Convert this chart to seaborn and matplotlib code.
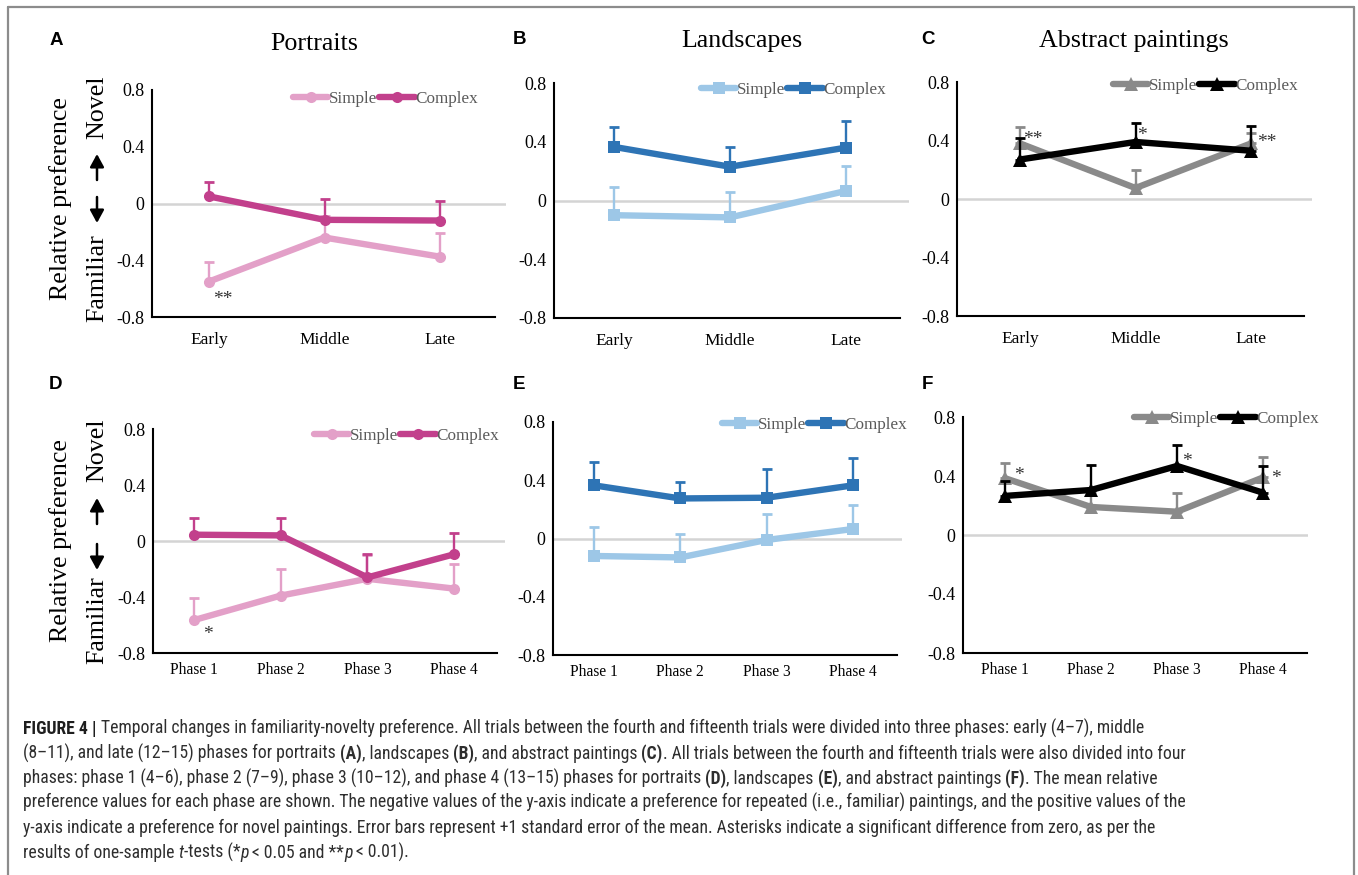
import matplotlib
matplotlib.use('Agg')
import matplotlib.pyplot as plt
import seaborn as sns
import numpy as np
from matplotlib import font_manager as fm
from matplotlib.lines import Line2D
from matplotlib.patches import FancyArrowPatch

W, H = 1358, 875

# ---------------- data ----------------
cats3 = ["Early", "Middle", "Late"]
cats4 = ["Phase 1", "Phase 2", "Phase 3", "Phase 4"]
ytick_vals = [-0.8, -0.4, 0, 0.4, 0.8]
ytick_labels = ["-0.8", "-0.4", "0", "0.4", "0.8"]
series_names = ["Simple", "Complex"]

portrait_simple_3 = [-0.55, -0.24, -0.375]
portrait_simple_3_se = [0.14, 0.15, 0.17]
portrait_complex_3 = [0.05, -0.115, -0.12]
portrait_complex_3_se = [0.10, 0.145, 0.135]

land_simple_3 = [-0.10, -0.115, 0.065]
land_simple_3_se = [0.19, 0.17, 0.17]
land_complex_3 = [0.365, 0.23, 0.36]
land_complex_3_se = [0.135, 0.135, 0.18]

abs_simple_3 = [0.38, 0.075, 0.38]
abs_simple_3_se = [0.115, 0.12, 0.07]
abs_complex_3 = [0.27, 0.39, 0.33]
abs_complex_3_se = [0.15, 0.13, 0.17]

portrait_simple_4 = [-0.565, -0.39, -0.27, -0.34]
portrait_simple_4_se = [0.155, 0.19, 0.17, 0.175]
portrait_complex_4 = [0.045, 0.04, -0.26, -0.095]
portrait_complex_4_se = [0.12, 0.125, 0.17, 0.15]

land_simple_4 = [-0.12, -0.13, -0.01, 0.065]
land_simple_4_se = [0.20, 0.16, 0.18, 0.165]
land_complex_4 = [0.365, 0.275, 0.28, 0.365]
land_complex_4_se = [0.16, 0.11, 0.195, 0.19]

abs_simple_4 = [0.385, 0.19, 0.158, 0.39]
abs_simple_4_se = [0.105, 0.10, 0.13, 0.137]
abs_complex_4 = [0.265, 0.305, 0.468, 0.287]
abs_complex_4_se = [0.10, 0.167, 0.142, 0.18]

# significance marks: (series index 0=Simple 1=Complex, category index, label)
stars_A = [(0, 0, "**")]
stars_B = []
stars_C = [(0, 0, "**"), (1, 1, "*"), (0, 2, "**")]
stars_D = [(0, 0, "*")]
stars_E = []
stars_F = [(0, 0, "*"), (1, 2, "*"), (0, 3, "*")]

titles = ["Portraits", "Landscapes", "Abstract paintings"]
letters = ["A", "B", "C", "D", "E", "F"]
ylabel_main = "Relative preference"
ylabel_low = "Familiar"
ylabel_high = "Novel"

caption_lines = [
    [("FIGURE 4 | ", "bold", "normal"),
     ("Temporal changes in familiarity-novelty preference. All trials between the fourth and fifteenth trials were divided into three phases: early (4\u20137), middle", "normal", "normal")],
    [("(8\u201311), and late (12\u201315) phases for portraits ", "normal", "normal"), ("(A)", "bold", "normal"),
     (", landscapes ", "normal", "normal"), ("(B)", "bold", "normal"),
     (", and abstract paintings ", "normal", "normal"), ("(C)", "bold", "normal"),
     (". All trials between the fourth and fifteenth trials were also divided into four", "normal", "normal")],
    [("phases: phase 1 (4\u20136), phase 2 (7\u20139), phase 3 (10\u201312), and phase 4 (13\u201315) phases for portraits ", "normal", "normal"),
     ("(D)", "bold", "normal"), (", landscapes ", "normal", "normal"), ("(E)", "bold", "normal"),
     (", and abstract paintings ", "normal", "normal"), ("(F)", "bold", "normal"),
     (". The mean relative", "normal", "normal")],
    [("preference values for each phase are shown. The negative values of the y-axis indicate a preference for repeated (i.e., familiar) paintings, and the positive values of the", "normal", "normal")],
    [("y-axis indicate a preference for novel paintings. Error bars represent +1 standard error of the mean. Asterisks indicate a significant difference from zero, as per the", "normal", "normal")],
    [("results of one-sample ", "normal", "normal"), ("t", "normal", "italic"),
     ("-tests (*", "normal", "normal"), ("p", "normal", "italic"), (" < 0.05 and **", "normal", "normal"),
     ("p", "normal", "italic"), (" < 0.01).", "normal", "normal")],
]

# ---------------- style ----------------
sns.set_style("white")
plt.rcParams['font.family'] = ['Liberation Serif', 'DejaVu Serif']

def font_ok(name):
    try:
        fm.findfont(fm.FontProperties(family=name), fallback_to_default=False)
        return True
    except Exception:
        return False

CAPF = None
for cand in ['Liberation Sans Narrow', 'Roboto Condensed', 'Roboto', 'Liberation Sans']:
    if font_ok(cand):
        CAPF = [cand, 'DejaVu Sans']
        break
if CAPF is None:
    CAPF = ['DejaVu Sans']
SANS = ['Liberation Sans', 'DejaVu Sans']

fig = plt.figure(figsize=(W / 100, H / 100), dpi=100)
fig.patch.set_facecolor('white')

# layout in pixels: spine_x, first_tick, tick_step, spine_end, grey_end, top, bottom
layouts = [
    (152, 209, 115.5, 495, 506, 90, 317),
    (554, 614, 116, 900, 909, 83, 318),
    (957, 1020, 115.5, 1304, 1312, 82, 316),
    (153, 194, 86.7, 497, 505, 429, 653),
    (553, 594, 86.3, 897, 902, 422, 655),
    (963, 1005, 86.0, 1307, 1308, 417, 653),
]
legend_anchor = [(478, 99), (886, 90), (1298, 86), (499, 436), (907, 425), (1319, 419)]
star_offsets = {  # pixel offsets of asterisk centre from the data point (right, down)
    "A": [(14, 14)], "B": [], "C": [(13, -8), (6, -11), (16, -5)],
    "D": [(14, 10)], "E": [], "F": [(14, -7), (10, -9), (13, -3)],
}

pal_portrait = ("#E3A0C8", "#C2408C")
pal_land = ("#9DC7E7", "#2E74B5")
pal_abs = ("#8A8A8A", "#000000")

panels = [
    ("A", cats3, portrait_simple_3, portrait_simple_3_se, portrait_complex_3, portrait_complex_3_se, pal_portrait, 'o', stars_A),
    ("B", cats3, land_simple_3, land_simple_3_se, land_complex_3, land_complex_3_se, pal_land, 's', stars_B),
    ("C", cats3, abs_simple_3, abs_simple_3_se, abs_complex_3, abs_complex_3_se, pal_abs, '^', stars_C),
    ("D", cats4, portrait_simple_4, portrait_simple_4_se, portrait_complex_4, portrait_complex_4_se, pal_portrait, 'o', stars_D),
    ("E", cats4, land_simple_4, land_simple_4_se, land_complex_4, land_complex_4_se, pal_land, 's', stars_E),
    ("F", cats4, abs_simple_4, abs_simple_4_se, abs_complex_4, abs_complex_4_se, pal_abs, '^', stars_F),
]

STAR_FS = 14
for i, (letter, cats, sv, sse, cv, cse, pal, mk, stars) in enumerate(panels):
    spine_x, t1, dt, spine_end, grey_end, top, bot = layouts[i]
    ax = fig.add_axes([spine_x / W, 1 - bot / H, (grey_end - spine_x) / W, (bot - top) / H])
    ax.set_facecolor('none')
    x = np.arange(1, len(cats) + 1)
    xlo = 1 - (t1 - spine_x) / dt
    xhi = 1 + (grey_end - t1) / dt
    ax.set_xlim(xlo, xhi)
    ax.set_ylim(-0.8, 0.8)
    ax.axhline(0, color='#d4d4d4', lw=1.8, zorder=0)
    z = 2
    for vals, se, col, lab in [(sv, sse, pal[0], series_names[0]), (cv, cse, pal[1], series_names[1])]:
        ax.errorbar(x, vals, yerr=[np.zeros(len(se)), se], fmt='none', ecolor=col,
                    elinewidth=1.7, capsize=3.5, capthick=2.0, zorder=z)
        sns.lineplot(x=x, y=vals, color=col, marker=mk, markersize=8 if mk != '^' else 9.5,
                     markeredgewidth=0, linewidth=4.6, ax=ax, label=lab, zorder=z + 1)
        z += 2
    all_vals = [sv, cv]
    base_off = 0.45 * STAR_FS / 0.72
    for (si, ci, lab), (dx, dy) in zip(stars, star_offsets[letter]):
        ax.annotate(lab, xy=(x[ci], all_vals[si][ci]), xytext=(dx * 0.72, -(dy + base_off) * 0.72),
                    textcoords='offset points', ha='center', va='baseline', fontsize=STAR_FS,
                    color='#333333', zorder=10)
    for s in ['top', 'right']:
        ax.spines[s].set_visible(False)
    for s in ['left', 'bottom']:
        ax.spines[s].set_color('black')
        ax.spines[s].set_linewidth(1.5)
    ax.spines['bottom'].set_bounds(xlo, 1 + (spine_end - t1) / dt)
    ax.set_xticks(x)
    top_row = i < 3
    ax.set_xticklabels(cats, fontsize=12.5 if top_row else 11.2)
    ax.set_yticks(ytick_vals)
    ax.set_yticklabels(ytick_labels, fontsize=13)
    ax.tick_params(axis='x', direction='in', length=5, width=1.3, pad=11 if top_row else 6.5, colors='black')
    ax.tick_params(axis='y', direction='out', length=4, width=1.3, pad=1.5, colors='black')
    ax.set_xlabel('')
    ax.set_ylabel('')
    ax.grid(False)
    h, l = ax.get_legend_handles_labels()
    lx, ly = legend_anchor[i]
    ax.legend(h, l, ncol=2, frameon=False, loc='center right', bbox_to_anchor=(lx / W, 1 - ly / H),
              bbox_transform=fig.transFigure, borderaxespad=0, borderpad=0, handlelength=2.1,
              handletextpad=0.0, columnspacing=0.15, fontsize=12.3, labelcolor='#5a5a5a')

# titles
title_pos = [(314, 50), (742, 47), (1134, 47)]
for t, (tx, ty) in zip(titles, title_pos):
    fig.text(tx / W, 1 - ty / H, t, fontsize=18.7, ha='center', va='baseline', color='black')

# panel letters
letter_pos = [(56, 45), (519, 44), (928, 44), (56, 389), (519, 389), (927, 389)]
for lt, (lx, ly) in zip(letters, letter_pos):
    fig.text(lx / W, 1 - ly / H, lt, fontsize=13.5, fontweight='bold', family=SANS,
             ha='center', va='baseline', color='black')

# y labels: (main centre y, familiar centre, down arrow centre, up arrow centre, novel centre)
ylab_rows = [(199, 278, 210, 167, 107), (541, 620, 557, 511, 450)]
for cy, fy, dy_, uy, ny in ylab_rows:
    fig.text(61 / W, 1 - cy / H, ylabel_main, rotation=90, fontsize=18.7,
             ha='center', va='center', color='black')
    fig.text(97 / W, 1 - fy / H, ylabel_low, rotation=90, fontsize=18.7,
             ha='center', va='center', color='black')
    fig.text(97 / W, 1 - ny / H, ylabel_high, rotation=90, fontsize=18.7,
             ha='center', va='center', color='black')
    for (y0, y1) in [(dy_ - 13, dy_ + 13), (uy + 13, uy - 13)]:
        fig.add_artist(FancyArrowPatch((97 / W, 1 - y0 / H), (97 / W, 1 - y1 / H),
                                       transform=fig.transFigure, arrowstyle='-|>,head_length=0.55,head_width=0.3',
                                       mutation_scale=14, lw=1.8, color='black', shrinkA=0, shrinkB=0))

# frame
fc = '#8c8c8c'
fig.add_artist(Line2D([8 / W, 8 / W], [0, 1 - 7 / H], transform=fig.transFigure, color=fc, lw=1.6))
fig.add_artist(Line2D([8 / W, 1354 / W], [1 - 7 / H, 1 - 7 / H], transform=fig.transFigure, color=fc, lw=1.6))
fig.add_artist(Line2D([1354 / W, 1354 / W], [0, 1 - 7 / H], transform=fig.transFigure, color=fc, lw=1.6))

# caption
renderer = fig.canvas.get_renderer()

def tw(s, size, weight='normal', style='normal'):
    t = fig.text(0, 0, s, fontsize=size, family=CAPF, fontweight=weight, fontstyle=style)
    w = t.get_window_extent(renderer).width
    t.remove()
    return w

base = 14.0
w4 = tw(caption_lines[3][0][0], base)
cap_size = base * (1167.0 / w4)

caption_baselines = [734, 759, 784, 808, 833, 858]
for runs, by in zip(caption_lines, caption_baselines):
    xpos = 23.0
    for txt, wt, st in runs:
        sp = tw("a a", cap_size, wt, st) - tw("aa", cap_size, wt, st)
        core = txt.strip(' ')
        lead = len(txt) - len(txt.lstrip(' '))
        trail = len(txt) - len(txt.rstrip(' '))
        xpos += lead * sp
        col = '#1e1e1e' if (wt == 'bold' and txt.startswith('FIGURE')) else '#2e2e2e'
        t = fig.text(xpos / W, 1 - by / H, core, fontsize=cap_size, family=CAPF, fontweight=wt,
                     fontstyle=st, ha='left', va='baseline', color=col)
        xpos += t.get_window_extent(renderer).width + trail * sp

fig.savefig('out.png', dpi=100, facecolor='white')
